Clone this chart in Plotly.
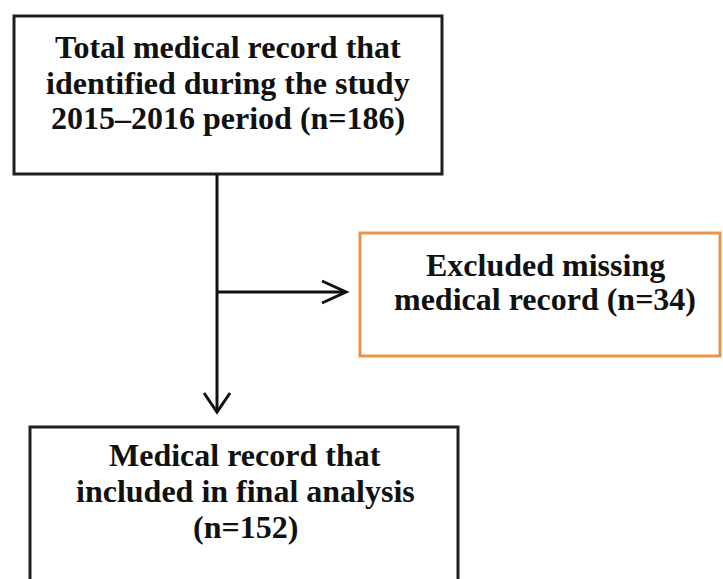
import plotly.graph_objects as go

# Flowchart content
box_lines = [
    ["Total medical record that", "identified during the study", "2015\u20132016 period (n={})"],
    ["Excluded missing", "medical record (n={})"],
    ["Medical record that", "included in final analysis", "(n={})"],
]
box_counts = [186, 34, 152]

# layout geometry (pixels): x0, y0, x1, y1
boxes = [(14, 16, 442, 174), (360, 233, 720, 356), (30, 427, 458, 600)]
box_colors = ["#1e1e1e", "#EC9447", "#1e1e1e"]
text_x = [228, 545, 245]
text_y = [[47, 83, 118], [265, 299], [455, 491, 527]]

fig = go.Figure()
fig.add_trace(go.Scatter(x=[0], y=[0], mode="markers", marker=dict(opacity=0), hoverinfo="skip", showlegend=False))

shapes = []
for (x0, y0, x1, y1), c in zip(boxes, box_colors):
    shapes.append(dict(type="rect", x0=x0, y0=y0, x1=x1, y1=y1, xref="x", yref="y",
                       line=dict(color=c, width=3), fillcolor="white", layer="below"))

# connectors
shapes.append(dict(type="line", x0=217, y0=174, x1=217, y1=411, xref="x", yref="y",
                   line=dict(color="#111", width=3)))
shapes.append(dict(type="line", x0=217, y0=292, x1=345, y1=292, xref="x", yref="y",
                   line=dict(color="#111", width=3)))
# arrowheads (open chevrons)
shapes.append(dict(type="path", path="M 204 393 L 217 412 L 230 393", xref="x", yref="y",
                   line=dict(color="#111", width=3)))
shapes.append(dict(type="path", path="M 322 281 L 346 292 L 322 303", xref="x", yref="y",
                   line=dict(color="#111", width=3)))

annotations = []
for lines, n, tx, tys in zip(box_lines, box_counts, text_x, text_y):
    for line, ty in zip(lines, tys):
        annotations.append(dict(x=tx, y=ty, xref="x", yref="y", text="<b>" + line.format(n) + "</b>",
                                showarrow=False, xanchor="center", yanchor="middle", align="center",
                                font=dict(family="Liberation Serif, Times New Roman, serif", size=32, color="#111")))

fig.update_layout(
    width=723, height=579,
    margin=dict(l=0, r=0, t=0, b=0),
    paper_bgcolor="white", plot_bgcolor="white",
    xaxis=dict(range=[0, 723], visible=False, fixedrange=True),
    yaxis=dict(range=[579, 0], visible=False, fixedrange=True),
    shapes=shapes, annotations=annotations, showlegend=False,
)
fig.write_html("out.html", config={"displayModeBar": False},
               post_script="document.body.style.margin='0';document.body.style.overflow='hidden';")
